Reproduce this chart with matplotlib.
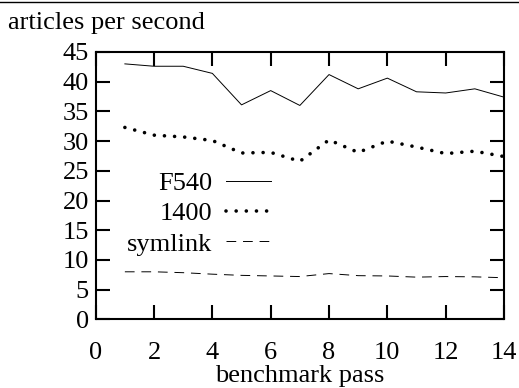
import numpy as np
import matplotlib
matplotlib.use("Agg")
import matplotlib.pyplot as plt
from matplotlib.lines import Line2D

# benchmark passes and articles/second
passes = [1, 2, 3, 4, 5, 6, 7, 8, 9, 10, 11, 12, 13, 14]
f540 = [43.0, 42.6, 42.6, 41.4, 36.1, 38.5, 36.0, 41.2, 38.8, 40.6, 38.3, 38.1, 38.8, 37.4]
d1400 = [32.3, 31.0, 30.7, 30.1, 28.0, 28.1, 26.6, 30.2, 28.1, 30.0, 29.0, 27.9, 28.3, 27.4]
symlink = [8.0, 8.0, 7.85, 7.6, 7.4, 7.3, 7.2, 7.7, 7.35, 7.3, 7.1, 7.2, 7.15, 7.0]
xticks = [0, 2, 4, 6, 8, 10, 12, 14]
yticks = [0, 5, 10, 15, 20, 25, 30, 35, 40, 45]

plt.rcParams['font.family'] = ['Liberation Serif', 'DejaVu Serif']
plt.rcParams['font.size'] = 19

fig = plt.figure(figsize=(5.19, 3.88), dpi=100)
ax = fig.add_axes([0.1844, 0.177, 0.9711 - 0.1844, 0.866 - 0.177])

ax.plot(passes, f540, color="black", lw=0.7, label="F540")
ax.plot(passes, d1400, color="black", lw=2.6, linestyle=(0, (0.01, 2.8)),
        dash_capstyle="round", label="1400")
ax.plot(passes, symlink, color="black", lw=0.7, linestyle=(0, (10, 7)),
        label="symlink")

ax.set_xlim(0, 14)
ax.set_ylim(0, 45)
ax.set_xticks(xticks)
ax.set_yticks(yticks)
ax.tick_params(direction="in", length=10, width=1.5, top=True, right=True)
ax.tick_params(axis="x", pad=16)
ax.tick_params(axis="y", pad=5)
for s in ax.spines.values():
    s.set_linewidth(1.5)

ax.set_xlabel("benchmark pass", labelpad=1)
fig.text(0.015, 0.925, "articles per second", ha="left", va="baseline")

leg = ax.legend(loc="upper right", bbox_to_anchor=(0.43, 0.553), frameon=False,
                markerfirst=False, handlelength=1.7, handletextpad=0.55,
                labelspacing=0.26, borderaxespad=0, borderpad=0)

fig.add_artist(Line2D([0, 1], [0.996, 0.996], color="black", lw=1.0,
                      transform=fig.transFigure))

fig.savefig("out.png", dpi=100)
